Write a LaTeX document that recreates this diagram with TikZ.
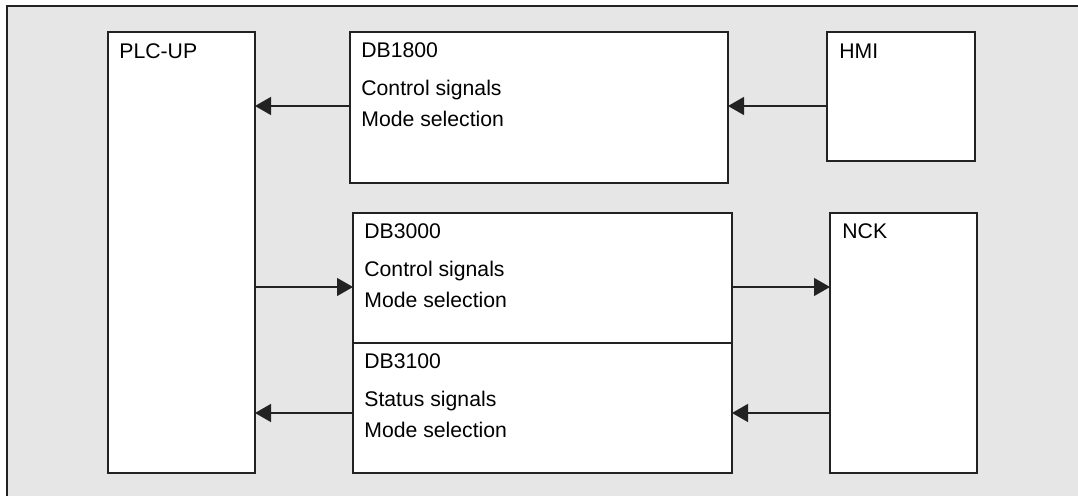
\documentclass[tikz,border=0pt]{standalone}
\usepackage{fontspec}
\setmainfont{Liberation Sans}
\usetikzlibrary{arrows.meta,positioning,calc}
\definecolor{frameGray}{RGB}{230,230,230}
\definecolor{lineDark}{RGB}{34,34,34}

\begin{document}
\begin{tikzpicture}[x=0.5pt,y=-0.5pt,
  block/.style={draw=lineDark,line width=0.8pt,fill=white,anchor=north west,inner sep=0pt,outer sep=0pt},
  lbl/.style={anchor=base west,inner sep=0pt,font=\fontsize{10.6}{12}\selectfont,text=black},
  flow/.style={draw=lineDark,line width=0.65pt,-{Triangle[length=8pt,width=9pt]}}]
        \useasboundingbox (0,0) rectangle (1078,496);
        % Background frame
        \fill[frameGray] (7,6) rectangle (1078,496);
        \draw[lineDark,line width=0.8pt] (7,496) -- (7,6) -- (1078,6);
        % Blocks
        \node[block,minimum width=73.5pt,minimum height=220.5pt] (plc) at (108,32) {};
        \node[block,minimum width=189pt,minimum height=75.5pt] (db1800) at (350,32) {};
        \node[block,minimum width=74pt,minimum height=64.5pt] (hmi) at (827,32) {};
        \node[block,minimum width=189.5pt,minimum height=65pt] (db3000) at (353,213) {};
        \node[block,minimum width=189.5pt,minimum height=65pt,anchor=north,below=0pt of db3000] (db3100) {};
        \node[block,minimum width=73.5pt,minimum height=130pt] (nck) at (830,213) {};
        % Block texts
        \node[lbl] (plcTxt) at ($(plc.north west)+(11,27)$) {PLC-UP};
        \node[lbl] (hmiTxt) at ($(hmi.north west)+(12,27)$) {HMI};
        \node[lbl] (nckTxt) at ($(nck.north west)+(12,26)$) {NCK};
        \node[lbl] (db1800Txt) at ($(db1800.north west)+(11,26)$) {DB1800};
        \node[lbl] (db1800Ctl) at ($(db1800.north west)+(11,64)$) {Control signals};
        \node[lbl] (db1800Mode) at ($(db1800.north west)+(11,95)$) {Mode selection};
        \node[lbl] (db3000Txt) at ($(db3000.north west)+(11,26)$) {DB3000};
        \node[lbl] (db3000Ctl) at ($(db3000.north west)+(11,64)$) {Control signals};
        \node[lbl] (db3000Mode) at ($(db3000.north west)+(11,95)$) {Mode selection};
        \node[lbl] (db3100Txt) at ($(db3100.north west)+(11,26)$) {DB3100};
        \node[lbl] (db3100Sts) at ($(db3100.north west)+(11,64)$) {Status signals};
        \node[lbl] (db3100Mode) at ($(db3100.north west)+(11,95)$) {Mode selection};
        % Connectors
        \coordinate (c1800) at ($(db1800.west)+(0,-1.5)$);
        \coordinate (c3000) at ($(db3000.west)+(0,9)$);
        \coordinate (c3100) at ($(db3100.west)+(0,5)$);
        \draw[flow] (c1800) -- (c1800 -| plc.east);
        \draw[flow] (c1800 -| hmi.west) -- (c1800 -| db1800.east);
        \draw[flow] (c3000 -| plc.east) -- (c3000);
        \draw[flow] (c3000 -| db3000.east) -- (c3000 -| nck.west);
        \draw[flow] (c3100) -- (c3100 -| plc.east);
        \draw[flow] (c3100 -| nck.west) -- (c3100 -| db3100.east);
      \end{tikzpicture}
\end{document}
